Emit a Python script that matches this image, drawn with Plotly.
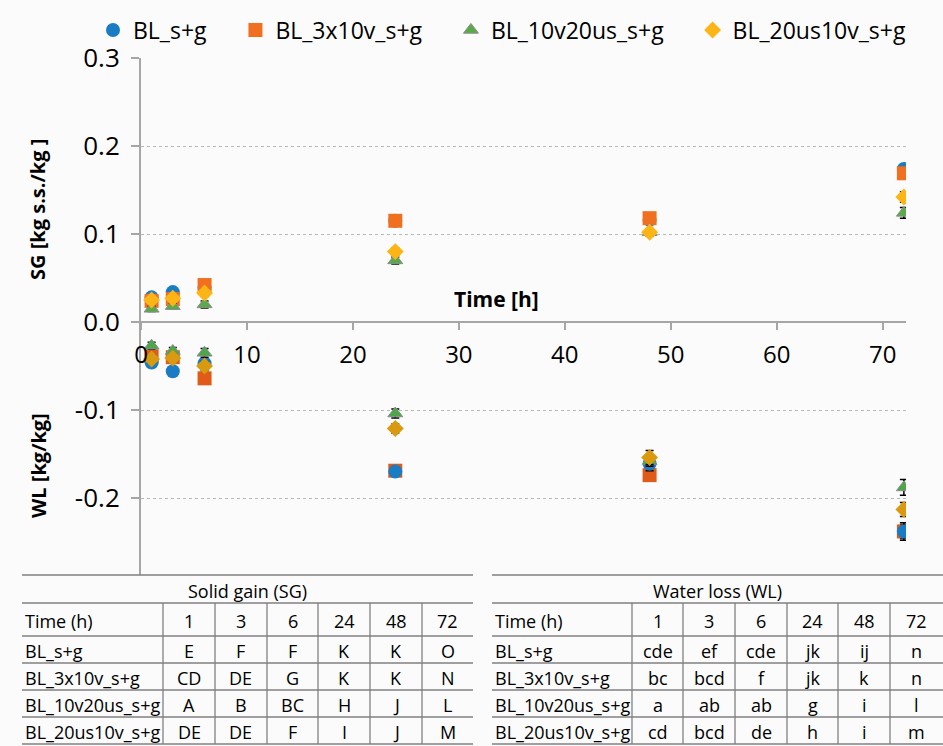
import plotly.graph_objects as go

# ---- measurement data -------------------------------------------------------
times = [1, 3, 6, 24, 48, 72]

series_names = ["BL_s+g", "BL_3x10v_s+g", "BL_10v20us_s+g", "BL_20us10v_s+g"]

# Solid gain (kg s.s./kg)
sg_bl = [0.028, 0.034, 0.039, 0.115, 0.116, 0.174]
sg_3x10v = [0.024, 0.026, 0.042, 0.115, 0.118, 0.169]
sg_10v20us = [0.015, 0.018, 0.020, 0.070, 0.102, 0.124]
sg_20us10v = [0.025, 0.027, 0.033, 0.080, 0.102, 0.142]

sg_err_bl = [0.003, 0.003, 0.004, 0.004, 0.004, 0.005]
sg_err_3x10v = [0.003, 0.003, 0.004, 0.004, 0.004, 0.005]
sg_err_10v20us = [0.003, 0.003, 0.004, 0.004, 0.004, 0.006]
sg_err_20us10v = [0.003, 0.003, 0.004, 0.004, 0.004, 0.006]

# Water loss (kg/kg), plotted as negative values
wl_bl = [-0.046, -0.056, -0.047, -0.170, -0.161, -0.238]
wl_3x10v = [-0.039, -0.040, -0.064, -0.169, -0.174, -0.238]
wl_10v20us = [-0.027, -0.033, -0.035, -0.104, -0.158, -0.188]
wl_20us10v = [-0.042, -0.041, -0.050, -0.121, -0.154, -0.213]

wl_err_bl = [0.004, 0.004, 0.005, 0.005, 0.008, 0.010]
wl_err_3x10v = [0.004, 0.004, 0.005, 0.005, 0.006, 0.008]
wl_err_10v20us = [0.004, 0.004, 0.005, 0.005, 0.006, 0.009]
wl_err_20us10v = [0.004, 0.004, 0.005, 0.005, 0.008, 0.008]

# Axis ticks
x_tick_vals = [0, 10, 20, 30, 40, 50, 60, 70]
y_tick_vals = [-0.2, -0.1, 0.0, 0.1, 0.2, 0.3]
y_tick_text = ["-0.2", "-0.1", "0.0", "0.1", "0.2", "0.3"]

# Significance letters tables
table_header = ["Time (h)", "1", "3", "6", "24", "48", "72"]
sg_title = "Solid gain (SG)"
wl_title = "Water loss (WL)"
sg_letters = [
    ["E", "F", "F", "K", "K", "O"],
    ["CD", "DE", "G", "K", "K", "N"],
    ["A", "B", "BC", "H", "J", "L"],
    ["DE", "DE", "F", "I", "J", "M"],
]
wl_letters = [
    ["cde", "ef", "cde", "jk", "ij", "n"],
    ["bc", "bcd", "f", "jk", "k", "n"],
    ["a", "ab", "ab", "g", "i", "l"],
    ["cd", "bcd", "de", "h", "i", "m"],
]

# ---- figure geometry (pixels) -----------------------------------------------
W, H = 943, 746
FONT = "Open Sans"


def fx(px):
    return px / W


def fy(py):
    return 1 - py / H


plot_left, plot_right, plot_top, plot_bottom = 141, 906, 58, 575
y_zero_px = 322

sg_colors = ["#1a7dc4", "#f07020", "#5aaa4a", "#fdb515"]
wl_colors = ["#1a7dc4", "#e05a18", "#4ea64a", "#d99a10"]
symbols = ["circle", "square", "triangle-up", "diamond"]
sizes = [14, 14, 13, 13]

sg_values = [sg_bl, sg_3x10v, sg_10v20us, sg_20us10v]
sg_errors = [sg_err_bl, sg_err_3x10v, sg_err_10v20us, sg_err_20us10v]
wl_values = [wl_bl, wl_3x10v, wl_10v20us, wl_20us10v]
wl_errors = [wl_err_bl, wl_err_3x10v, wl_err_10v20us, wl_err_20us10v]

# trailing no-break spaces widen the gap between legend entries
legend_pads = ["\u00a0" * 4, "\u00a0" * 4, "\u00a0" * 4, ""]

fig = go.Figure()


def marker_style(i, color):
    m = dict(symbol=symbols[i], size=sizes[i], color=color)
    if symbols[i] == "triangle-up":
        m["line"] = dict(color="#8c8c8c", width=1)
    else:
        m["line"] = dict(width=0)
    return m


def err_style(arr):
    return dict(type="data", array=arr, color="black", thickness=1.5, width=4)


# solid gain series
for i in range(4):
    fig.add_trace(go.Scatter(
        x=times, y=sg_values[i], mode="markers", name=series_names[i] + legend_pads[i],
        marker=marker_style(i, sg_colors[i]), error_y=err_style(sg_errors[i]),
        legendgroup=series_names[i],
    ))

# water loss series
for i in [1, 0, 2, 3]:
    fig.add_trace(go.Scatter(
        x=times, y=wl_values[i], mode="markers", name=series_names[i],
        marker=marker_style(i, wl_colors[i]), error_y=err_style(wl_errors[i]),
        legendgroup=series_names[i], showlegend=False,
    ))

axis_grey = "#a6a6a6"
x_max = 72.2
y_min = -(plot_bottom - y_zero_px) / (y_zero_px - plot_top) * 0.3

fig.update_layout(
    width=W, height=H,
    margin=dict(l=0, r=0, t=0, b=0, autoexpand=False),
    paper_bgcolor="#fbfbfb", plot_bgcolor="#fbfbfb",
    font=dict(family=FONT, color="black"),
    showlegend=True,
    legend=dict(
        orientation="h", x=fx(93), y=fy(30), xanchor="left", yanchor="middle",
        font=dict(family=FONT, size=23, color="black"),
        bgcolor="rgba(0,0,0,0)", itemwidth=30,
    ),
    xaxis=dict(
        domain=[fx(plot_left), fx(plot_right)], range=[0, x_max],
        anchor="free", position=fy(y_zero_px),
        showline=True, linecolor=axis_grey, linewidth=2,
        ticks="outside", ticklen=7, tickcolor=axis_grey, tickwidth=1.5,
        tickvals=x_tick_vals, tickfont=dict(size=24, color="black"),
        ticklabelstandoff=4,
        showgrid=False, zeroline=False, automargin=False,
    ),
    yaxis=dict(
        domain=[fy(plot_bottom), fy(plot_top)], range=[y_min, 0.3],
        anchor="x",
        showline=True, linecolor=axis_grey, linewidth=2,
        ticks="outside", ticklen=8, tickcolor=axis_grey, tickwidth=1.5,
        tickvals=y_tick_vals, ticktext=y_tick_text,
        tickfont=dict(size=26, color="black"), ticklabelstandoff=6,
        showgrid=True, gridcolor="#b8b8b8", griddash="dot", gridwidth=1,
        zeroline=False, automargin=False,
    ),
)


def label(text, px, py, size, angle=0):
    return dict(text=text, x=fx(px), y=fy(py), xref="paper", yref="paper",
                xanchor="center", yanchor="middle", showarrow=False,
                textangle=angle, font=dict(size=size, family=FONT, color="black"))


annotations = [
    label("<b>Time [h]</b>", 497, 299, 21),
    label("<b>SG [kg s.s./kg ]</b>", 38, 210, 20, -90),
    label("<b>WL [kg/kg]</b>", 38, 466, 20, -90),
]
shapes = []

# ---- significance tables -----------------------------------------------------
row_lines = [575, 603, 636, 663, 690, 717, 744]
line_col = "#808080"
table_font = dict(family=FONT, size=18, color="black")


def draw_table(col_edges, title, letters):
    left, right = col_edges[0], col_edges[-1]
    for yl in row_lines:
        shapes.append(dict(type="line", xref="paper", yref="paper",
                           x0=fx(left), x1=fx(right), y0=fy(yl), y1=fy(yl),
                           line=dict(color=line_col, width=1.3)))
    for xe in col_edges[1:-1]:
        shapes.append(dict(type="line", xref="paper", yref="paper",
                           x0=fx(xe), x1=fx(xe), y0=fy(row_lines[1]), y1=fy(row_lines[-1]),
                           line=dict(color=line_col, width=1.3)))
    annotations.append(dict(
        text=title, x=fx((left + right) / 2), y=fy((row_lines[0] + row_lines[1]) / 2 + 2),
        xanchor="center", yanchor="middle",
        xref="paper", yref="paper", showarrow=False, font=table_font))
    rows = [table_header] + [[series_names[r]] + letters[r] for r in range(len(letters))]
    for r, row in enumerate(rows):
        yc = (row_lines[r + 1] + row_lines[r + 2]) / 2 + 1
        for c, txt in enumerate(row):
            if c == 0:
                xa, xpos = "left", left + 1
            else:
                xa, xpos = "center", (col_edges[c] + col_edges[c + 1]) / 2
            annotations.append(dict(text=txt, x=fx(xpos), y=fy(yc),
                                    xanchor=xa, yanchor="middle",
                                    xref="paper", yref="paper", showarrow=False,
                                    font=table_font))


draw_table([22, 163, 215, 267, 318, 370, 422, 473], sg_title, sg_letters)
draw_table([492, 632, 683, 735, 787, 838, 890, 943], wl_title, wl_letters)

fig.update_layout(annotations=annotations, shapes=shapes)
fig.write_html("out.html")
